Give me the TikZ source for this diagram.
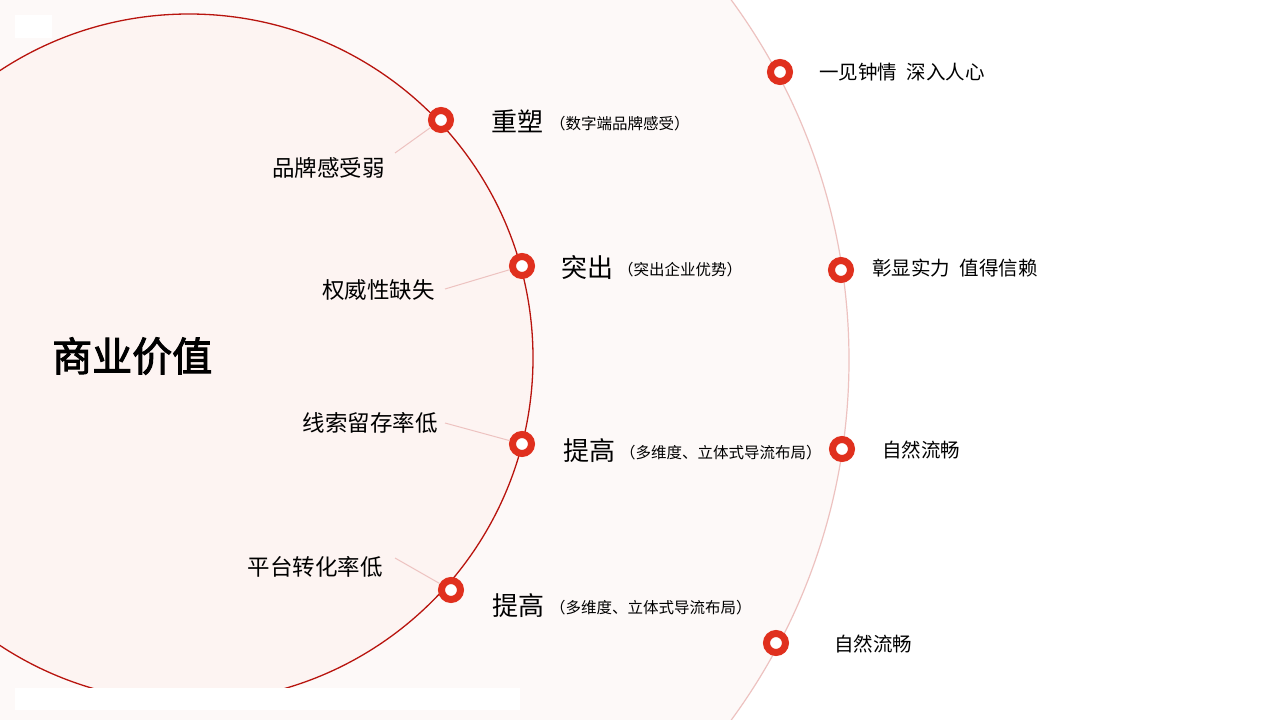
\documentclass[tikz,border=0pt]{standalone}
\usepackage{fontspec}
\newfontfamily\cjk{Noto Sans CJK SC}[AutoFakeBold=2.5]
\definecolor{ring}{HTML}{E0301E}
\definecolor{darkred}{HTML}{B8140E}
\definecolor{lpink}{HTML}{EDC2C0}
\definecolor{outerfill}{HTML}{FDF9F8}
\definecolor{innerfill}{HTML}{FDF4F2}
\tikzset{
 mk/.style={circle,draw=ring,line width=7pt,fill=white,minimum size=19pt,inner sep=0pt},
 lk/.style={draw=lpink,line width=1pt},
 big/.style={font=\cjk\fontsize{26}{28}\selectfont,inner sep=0pt},
 sm/.style={font=\cjk\fontsize{15.5}{17}\selectfont,inner sep=0pt},
 lab/.style={font=\cjk\fontsize{22.5}{24}\selectfont,inner sep=0pt},
 olab/.style={font=\cjk\fontsize{19.5}{22}\selectfont,inner sep=0pt},
}
\begin{document}
\begin{tikzpicture}[x=1pt,y=-1pt]
\useasboundingbox (0,0) rectangle (1280,720);
\fill[white] (0,0) rectangle (1280,720);
\begin{scope}
\clip (0,0) rectangle (1280,720);
\filldraw[fill=outerfill,draw=lpink,line width=1.2pt] (240,360) circle (609);
\filldraw[fill=innerfill,draw=darkred,line width=1.3pt] (189,358) circle (344);
\fill[white] (15,15) rectangle (52,38);
\fill[white] (15,688) rectangle (520,710);
\end{scope}
\node[font=\cjk\bfseries\fontsize{40}{42}\selectfont,anchor=west,inner sep=0pt] (title) at (52,356) {商业价值};
% inner markers
\node[mk] (a) at (441,120) {};
\node[mk] (b) at (522,266) {};
\node[mk] (c) at (522,444) {};
\node[mk] (d) at (451,590) {};
% outer markers
\node[mk] (oa) at (780,72) {};
\node[mk] (ob) at (841,270) {};
\node[mk] (oc) at (842,449) {};
\node[mk] (od) at (776,643) {};
% left labels
\node[lab,anchor=east] (la) at (385,168) {品牌感受弱};
\node[lab,anchor=east] (lb) at (435,290) {权威性缺失};
\node[lab,anchor=east] (lc) at (438,423) {线索留存率低};
\node[lab,anchor=east] (ld) at (383,567) {平台转化率低};
\coordinate (ea) at (395,153);
\coordinate (eb) at (445,289);
\coordinate (ec) at (445,423);
\coordinate (ed) at (395,558);
\draw[lk] (a) -- (ea);
\draw[lk] (b) -- (eb);
\draw[lk] (c) -- (ec);
\draw[lk] (d) -- (ed);
% right labels
\node[big,anchor=west] (ra) at (491,121) {重塑};
\node[sm,anchor=west] (rap) at (550,124) {（数字端品牌感受）};
\node[big,anchor=west] (rb) at (561,267) {突出};
\node[sm,anchor=west] (rbp) at (618,270) {（突出企业优势）};
\node[big,anchor=west] (rc) at (563,451) {提高};
\node[sm,anchor=west] (rcp) at (620,453) {（多维度、立体式导流布局）};
\node[big,anchor=west] (rd) at (492,606) {提高};
\node[sm,anchor=west] (rdp) at (550,608) {（多维度、立体式导流布局）};
% outer labels
\node[olab,anchor=west] (sa) at (819,72) {一见钟情\hspace{0.5em}深入人心};
\node[olab,anchor=west] (sb) at (872,268) {彰显实力\hspace{0.5em}值得信赖};
\node[olab,anchor=west] (sc) at (882,450) {自然流畅};
\node[olab,anchor=west] (sd) at (834,644) {自然流畅};
\end{tikzpicture}
\end{document}
